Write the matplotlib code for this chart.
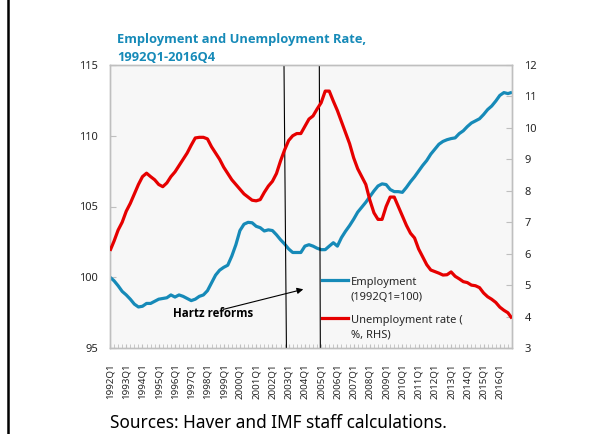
import matplotlib
matplotlib.use("Agg")
import matplotlib.pyplot as plt
from matplotlib.lines import Line2D
import numpy as np

plt.rcParams['font.family'] = ['Noto Sans', 'DejaVu Sans']
BOLD_FAMILY = ['Open Sans', 'DejaVu Sans']

# ---- data ----
years = list(range(1992, 2017))
quarters = [f"{y}Q{q}" for y in years for q in range(1, 5)]
tick_labels = [f"{y}Q1" for y in years]

employment = [
    100.0, 99.75, 99.4, 99.0, 98.75, 98.45, 98.1, 97.9, 97.95, 98.15,
    98.15, 98.3, 98.45, 98.5, 98.55, 98.75, 98.6, 98.75, 98.65, 98.5,
    98.35, 98.45, 98.65, 98.75, 99.05, 99.6, 100.15, 100.5, 100.7, 100.85,
    101.5, 102.3, 103.3, 103.75, 103.88, 103.85, 103.6, 103.5, 103.27, 103.35,
    103.3, 103.0, 102.65, 102.35, 102.0, 101.75, 101.75, 101.75, 102.2, 102.3,
    102.2, 102.05, 101.95, 101.95, 102.2, 102.44, 102.2, 102.8, 103.25, 103.65,
    104.1, 104.6, 104.95, 105.3, 105.7, 106.1, 106.45, 106.6, 106.55, 106.2,
    106.05, 106.05, 106.0, 106.35, 106.75, 107.1, 107.5, 107.9, 108.25, 108.7,
    109.05, 109.4, 109.6, 109.72, 109.8, 109.85, 110.15, 110.35, 110.65, 110.9,
    111.05, 111.2, 111.5, 111.85, 112.1, 112.45, 112.85, 113.05, 112.98, 113.07,
]

unemployment = [
    6.09, 6.4, 6.75, 7.0, 7.35, 7.6, 7.9, 8.2, 8.45, 8.56,
    8.45, 8.35, 8.2, 8.13, 8.25, 8.45, 8.6, 8.8, 9.0, 9.2,
    9.45, 9.68, 9.7, 9.7, 9.65, 9.4, 9.2, 9.0, 8.75, 8.55,
    8.35, 8.2, 8.05, 7.9, 7.8, 7.7, 7.68, 7.72, 7.95, 8.15,
    8.3, 8.55, 8.95, 9.3, 9.6, 9.75, 9.82, 9.82, 10.05, 10.28,
    10.38, 10.6, 10.8, 11.17, 11.17, 10.85, 10.55, 10.2, 9.85, 9.5,
    9.05, 8.7, 8.45, 8.2, 7.7, 7.3, 7.09, 7.09, 7.5, 7.8,
    7.8, 7.5, 7.2, 6.9, 6.65, 6.5, 6.15, 5.9, 5.65, 5.48,
    5.43, 5.38, 5.32, 5.33, 5.42, 5.28, 5.2, 5.11, 5.08, 5.0,
    4.98, 4.92, 4.75, 4.63, 4.55, 4.45, 4.3, 4.2, 4.12, 3.94,
]

# Hartz reform marker lines (quarter index at top and bottom of plot)
reform_lines = [(42.85, 43.45), (51.55, 51.8)]

title = "Employment and Unemployment Rate,\n1992Q1-2016Q4"
source = "Sources: Haver and IMF staff calculations."

BLUE = "#168ab8"
RED = "#e60000"
GRID = "#bfbfbf"
TXT = "#262626"

fig = plt.figure(figsize=(5.89, 4.34), dpi=100)
ax = fig.add_axes([110/589, 1-348/434, 402/589, 283/434])
ax.set_facecolor("#f7f7f7")
ax2 = ax.twinx()

x = np.arange(len(quarters))
ax.plot(x, employment, color=BLUE, lw=2.3, solid_capstyle='butt', zorder=3)
ax2.plot(x, unemployment, color=RED, lw=2.3, solid_capstyle='butt', zorder=3)

ax.set_xlim(0, len(quarters) - 1)
ax.set_ylim(95, 115)
ax2.set_ylim(3, 12)
ax.set_yticks(range(95, 116, 5))
ax2.set_yticks(range(3, 13))

ax.set_xticks(np.arange(0, len(quarters), 4))
ax.set_xticklabels(tick_labels, rotation=90, fontsize=7, color=TXT)
ax.set_xticks(x, minor=True)

ax.tick_params(axis='x', which='both', direction='in', length=3, color=GRID, pad=11)
ax.tick_params(axis='y', direction='in', length=4, color=GRID, labelsize=8, labelcolor=TXT, pad=8.6)
ax2.tick_params(axis='y', direction='in', length=4, color=GRID, labelsize=8, labelcolor=TXT, pad=9)

for a in (ax, ax2):
    for s in a.spines.values():
        s.set_color(GRID)
        s.set_linewidth(1.0)

# reform lines
for top, bot in reform_lines:
    ax.plot([top, bot], [115, 95], color="black", lw=0.8, zorder=4)

# annotation
ax.text(25.4, 97.47, "Hartz reforms", ha='center', va='center', fontsize=8.3,
        fontweight='bold', family=BOLD_FAMILY, color='black', zorder=5)
ax.annotate('', xy=(47.6, 99.15), xytext=(27.9, 97.73),
            arrowprops=dict(arrowstyle='-|>', color='black', lw=0.8,
                            mutation_scale=9, shrinkA=0, shrinkB=0), zorder=5)

# legend (manual)
ax.add_line(Line2D([0.527, 0.593], [0.240, 0.240], transform=ax.transAxes,
                   color=BLUE, lw=2.3, zorder=6))
ax.add_line(Line2D([0.527, 0.593], [0.105, 0.105], transform=ax.transAxes,
                   color=RED, lw=2.3, zorder=6))
ax.text(0.599, 0.205, "Employment\n(1992Q1=100)", transform=ax.transAxes,
        ha='left', va='center', fontsize=8, color=TXT, linespacing=1.45, zorder=6)
ax.text(0.599, 0.071, "Unemployment rate (\n%, RHS)", transform=ax.transAxes,
        ha='left', va='center', fontsize=8, color=TXT, linespacing=1.45, zorder=6)

# title
fig.text(117/589, 1-48.5/434, title, ha='left', va='center', fontsize=9.3,
         fontweight='bold', family=BOLD_FAMILY, color=BLUE, linespacing=1.45)

# source
fig.text(110/589, 1-423/434, source, ha='left', va='center', fontsize=12.4, color='black')

# left slide border
fig.add_artist(Line2D([8/589, 8/589], [0, 1], transform=fig.transFigure,
                      color='black', lw=1.8))

fig.savefig("out.png", dpi=100)
